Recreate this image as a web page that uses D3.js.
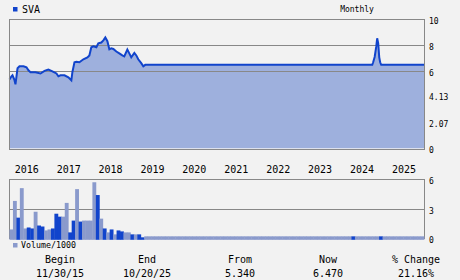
<!DOCTYPE html>
<html>
<head>
<meta charset="utf-8">
<script src="https://cdn.jsdelivr.net/npm/d3@7"></script>
<style>
  body { margin: 0; background: #f2f2f2; }
  svg { display: block; font-family: "DejaVu Sans Mono", monospace; }
</style>
</head>
<body>
<div id="chart"></div>
<script>
// price series (date, close)
const priceDates = ["2015-11-30","2015-12-17","2015-12-26","2016-01-12","2016-01-21","2016-02-08","2016-02-25","2016-03-31","2016-04-26","2016-05-13","2016-05-31","2016-07-13","2016-08-26","2016-09-30","2016-11-03","2016-12-08","2017-01-12","2017-01-29","2017-02-16","2017-03-23","2017-04-26","2017-05-22","2017-05-31","2017-06-18","2017-07-05","2017-07-31","2017-09-04","2017-10-09","2017-10-26","2017-11-12","2017-11-30","2017-12-26","2018-01-12","2018-02-07","2018-02-25","2018-03-14","2018-04-01","2018-04-18","2018-05-05","2018-05-23","2018-06-18","2018-07-14","2018-08-09","2018-08-26","2018-09-22","2018-10-09","2018-10-26","2018-11-22","2018-12-09","2018-12-26","2019-01-21","2019-02-08","2019-02-25","2024-07-26","2024-08-03","2024-08-16","2024-08-30","2024-09-07","2024-09-16","2024-09-25","2024-10-03","2024-10-12","2025-10-20"];
const priceValues = [5.34,5.58,5.66,5.3,4.96,6.2,6.36,6.36,6.28,6.05,5.9,5.9,5.8,6.0,6.1,5.97,5.8,5.58,5.66,5.66,5.5,5.27,5.9,6.67,6.7,6.67,6.9,7.05,7.2,7.83,7.9,7.83,8.14,8.2,8.37,8.6,8.3,7.67,7.75,7.7,7.5,7.36,7.2,7.13,7.65,7.36,7.05,7.4,7.2,6.9,6.6,6.36,6.47,6.47,6.67,7.08,7.9,8.53,8.14,7.05,6.67,6.47,6.47];

// monthly volume (thousands), Nov 2015 .. Oct 2025
const volumes = [
  0.9,3.8,2.1,5.1,1.0,1.1,1.0,2.7,1.3,1.2,0.8,0.9,1.0,2.5,2.2,2.2,3.6,0.6,1.8,5.0,
  1.7,1.8,1.8,1.8,5.7,4.4,2.0,1.0,0.6,0.9,0.4,0.8,0.7,0.6,0.6,0.4,0.4,0.4,0.1,
  0.2,0.2,0.2,0.2,0.2,0.2,0.2,0.2,0.2,
  0.2,0.2,0.2,0.2,0.2,0.2,0.2,0.2,0.2,
  0.2,0.2,0.2,0.2,0.2,0.2,0.2,0.2,0.2,
  0.2,0.2,0.2,0.2,0.2,0.2,0.2,0.2,0.2,
  0.2,0.2,0.2,0.2,0.2,0.2,0.2,0.2,0.2,
  0.2,0.2,0.2,0.2,0.2,0.2,0.2,0.2,0.2,
  0.2,0.2,0.2,0.2,0.2,0.2,0.2,0.2,0.2,
  0.2,0.2,0.2,0.2,0.2,0.2,0.2,0.2,0.2,
  0.2,0.2,0.2,0.2,0.2,0.2,0.2,0.2,0.2
];
// months drawn in dark blue (up months)
const darkMonths = [2,5,6,8,9,12,13,14,17,18,20,25,27,29,31,32,35,37,38,99,107];

const yearTicks = ["2016","2017","2018","2019","2020","2021","2022","2023","2024","2025"];
const priceTicks = [10, 8, 6, 4.13, 2.07, 0];
const priceGrid = [10, 8, 6];
const volTicks = [6, 3, 0];

const statLabels = ["Begin", "End", "From", "Now", "% Change"];
const statValues = ["11/30/15", "10/20/25", "5.340", "6.470", "21.16%"];

const W = 460, H = 280;
const left = 9.5, right = 424;
const dark = "#1144cc", light = "#8a9acc", fill = "#9eb0dd", grid = "#888";

const parse = d3.timeParse("%Y-%m-%d");
const prices = priceDates.map((d, i) => ({date: parse(d), value: priceValues[i]}));

const svg = d3.select("#chart").append("svg").attr("width", W).attr("height", H);
svg.append("rect").attr("width", W).attr("height", H).attr("fill", "#f2f2f2");

const x = d3.scaleTime()
  .domain([parse("2015-11-30"), parse("2025-10-20")])
  .range([left, right]);
const y = d3.scaleLinear().domain([0, 10]).range([148.3, 19.3]);

// price area + line
svg.append("path")
  .datum(prices)
  .attr("fill", fill)
  .attr("d", d3.area().x(d => x(d.date)).y0(y(0)).y1(d => y(d.value)));

// grid lines
svg.selectAll(".pgrid").data(priceGrid).enter().append("line")
  .attr("x1", left).attr("x2", right)
  .attr("y1", d => Math.round(y(d)) + 0.5).attr("y2", d => Math.round(y(d)) + 0.5)
  .attr("stroke", grid).attr("stroke-width", 1);

svg.append("path")
  .datum(prices)
  .attr("fill", "none")
  .attr("stroke", dark)
  .attr("stroke-width", 2)
  .attr("d", d3.line().x(d => x(d.date)).y(d => y(d.value)));

// price frame
svg.append("line").attr("x1", left).attr("x2", left).attr("y1", 19).attr("y2", 150)
  .attr("stroke", grid);
svg.append("line").attr("x1", right + 0.5).attr("x2", right + 0.5).attr("y1", 19).attr("y2", 150)
  .attr("stroke", grid);
svg.append("line").attr("x1", left).attr("x2", right + 0.5).attr("y1", 149.5).attr("y2", 149.5)
  .attr("stroke", grid);

// price axis labels
svg.selectAll(".plab").data(priceTicks).enter().append("text")
  .attr("x", 429).attr("y", d => y(d) + 5)
  .attr("font-size", 8).attr("fill", "#000")
  .text(d => d);

// year labels
const yearAxis = svg.append("g")
  .attr("transform", "translate(0,163)")
  .call(d3.axisBottom(x)
    .tickValues(yearTicks.map(t => parse(t + "-01-01")))
    .tickFormat(d3.timeFormat("%Y"))
    .tickSize(0));
yearAxis.select(".domain").remove();
yearAxis.selectAll("text")
  .attr("dx", 13).attr("font-size", 10)
  .attr("font-family", "DejaVu Sans Mono").attr("fill", "#000");

// volume panel
const vy = d3.scaleLinear().domain([0, 6]).range([238.3, 179.3]);
const vx = d3.scaleBand().domain(d3.range(volumes.length)).range([left, right]).padding(0);

svg.append("line").attr("x1", left).attr("x2", right + 0.5).attr("y1", 179.5).attr("y2", 179.5).attr("stroke", grid);
svg.append("line").attr("x1", left).attr("x2", right + 0.5)
  .attr("y1", Math.round(vy(3)) + 0.5).attr("y2", Math.round(vy(3)) + 0.5).attr("stroke", grid);
svg.append("line").attr("x1", left).attr("x2", left).attr("y1", 179).attr("y2", 239).attr("stroke", grid);
svg.append("line").attr("x1", right + 0.5).attr("x2", right + 0.5).attr("y1", 179).attr("y2", 239).attr("stroke", grid);

svg.selectAll(".vbar").data(volumes).enter().append("rect")
  .attr("x", (d, i) => vx(i))
  .attr("width", vx.bandwidth() + 0.4)
  .attr("y", d => vy(d))
  .attr("height", d => vy(0) - vy(d) + 1.5)
  .attr("fill", (d, i) => darkMonths.includes(i) ? dark : light);

svg.selectAll(".vlab").data(volTicks).enter().append("text")
  .attr("x", 429).attr("y", d => vy(d) + 5)
  .attr("font-size", 8).attr("fill", "#000")
  .text(d => d);

// legends
svg.append("rect").attr("x", 13).attr("y", 7).attr("width", 4.5).attr("height", 4.5).attr("fill", dark);
svg.append("text").attr("x", 22).attr("y", 13).attr("font-size", 10).text("SVA");
svg.append("text").attr("x", 357).attr("y", 12).attr("font-size", 8)
  .attr("text-anchor", "middle").text("Monthly");

svg.append("rect").attr("x", 13).attr("y", 243).attr("width", 4.5).attr("height", 4.5).attr("fill", light);
svg.append("text").attr("x", 21).attr("y", 248).attr("font-size", 8.3).text("Volume/1000");

// stats row
const statX = [60, 147, 240, 328, 416];
svg.selectAll(".slab").data(statLabels).enter().append("text")
  .attr("x", (d, i) => statX[i]).attr("y", 263)
  .attr("text-anchor", "middle").attr("font-size", 10)
  .text(d => d);
svg.selectAll(".sval").data(statValues).enter().append("text")
  .attr("x", (d, i) => statX[i]).attr("y", 277)
  .attr("text-anchor", "middle").attr("font-size", 10)
  .text(d => d);
</script>
</body>
</html>
